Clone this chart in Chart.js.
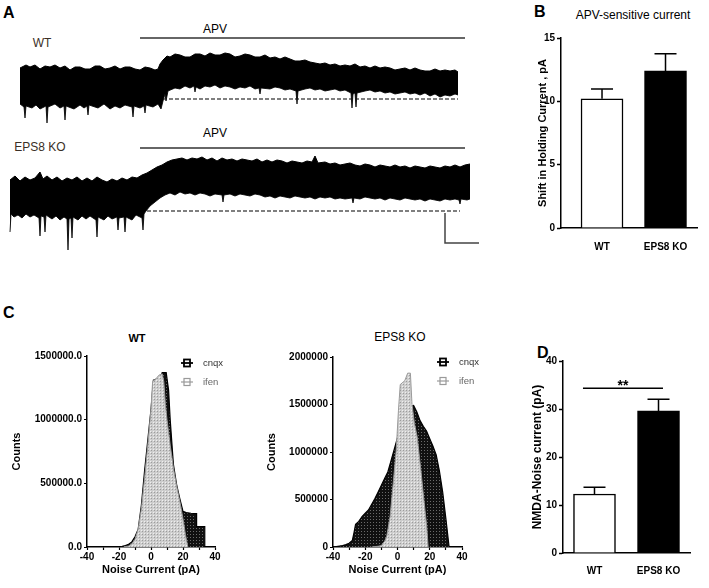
<!DOCTYPE html>
<html>
<head>
<meta charset="utf-8">
<script src="https://cdn.jsdelivr.net/npm/chart.js@4.4.1/dist/chart.umd.min.js"></script>
<style>
  body { margin: 0; width: 709px; height: 588px; background: #fff; position: relative; overflow: hidden;
         font-family: "Liberation Sans", Arial, sans-serif; }
  canvas { position: absolute; }
  .lbl { position: absolute; white-space: nowrap; line-height: 1; color: #000; transform: translate(-50%, -50%); }
  .panel { position: absolute; font-weight: bold; font-size: 16px; line-height: 1; }
</style>
</head>
<body>
<div class="panel" style="left:3px;top:5px">A</div>
<div class="panel" style="left:534px;top:4px">B</div>
<div class="panel" style="left:3px;top:305px">C</div>
<div class="panel" style="left:537px;top:345px">D</div>

<div class="lbl" style="left:42px;top:43px;font-size:12px;color:#3a2f26">WT</div>
<div class="lbl" style="left:40px;top:147px;font-size:12px;color:#3a2f26">EPS8 KO</div>
<div class="lbl" style="left:215px;top:29px;font-size:12px">APV</div>
<div class="lbl" style="left:215px;top:133px;font-size:12px">APV</div>
<div class="lbl" style="left:633px;top:15px;font-size:12px">APV-sensitive current</div>
<div class="lbl" style="left:137px;top:338px;font-size:11px;font-weight:bold">WT</div>
<div class="lbl" style="left:400px;top:337px;font-size:12px">EPS8 KO</div>

<canvas id="traceWT" width="480" height="110" style="left:0;top:20px"></canvas>
<canvas id="traceKO" width="480" height="120" style="left:0;top:130px"></canvas>
<canvas id="chartB" width="229" height="260" style="left:480px;top:0"></canvas>
<canvas id="histWT" width="240" height="268" style="left:0;top:320px"></canvas>
<canvas id="histKO" width="260" height="268" style="left:240px;top:320px"></canvas>
<canvas id="chartD" width="209" height="248" style="left:500px;top:340px"></canvas>

<script>
// ---- A: holding current traces, [time, current] envelopes (baseline = 0)
const wtTop = [[20,31],[26,34],[30,32],[35,34],[40,30],[45,33],[50,32],[55,34],[60,31],[65,33],[70,29],[75,32],[80,32],[85,30],[90,30],[95,33],[100,33],[105,30],[110,31],[115,33],[120,30],[125,32],[130,32],[135,30],[140,29],[145,32],[150,31],[155,29],[158,30],[160,35],[163,39],[167,43],[170,42],[175,45],[180,44],[185,42],[190,42],[195,45],[200,45],[205,43],[210,46],[215,44],[220,44],[225,46],[230,45],[235,42],[240,43],[245,45],[250,44],[255,42],[260,42],[265,44],[270,41],[275,42],[280,40],[285,42],[290,40],[295,38],[300,38],[305,39],[310,37],[315,36],[320,35],[325,36],[330,34],[335,35],[340,33],[345,34],[350,33],[355,35],[360,32],[365,33],[370,31],[375,33],[380,31],[385,32],[390,31],[395,29],[400,30],[405,31],[410,29],[415,31],[420,29],[425,28],[430,28],[435,30],[440,28],[445,29],[450,28],[455,29],[458,27]];
const wtBottom = [[20,-5],[24,-8],[25,-19],[26,-7],[32,-9],[36,-6],[40,-10],[46,-7],[47,-24],[48,-8],[55,-5],[60,-9],[64,-7],[65,-21],[66,-7],[74,-10],[80,-6],[84,-9],[87,-7],[88,-16],[89,-6],[98,-9],[104,-5],[110,-10],[115,-7],[120,-9],[125,-6],[132,-8],[133,-18],[134,-7],[140,-9],[144,-7],[145,-14],[146,-6],[153,-8],[158,-5],[161,-10],[163,-2],[165,5],[166,-2],[168,8],[175,11],[180,10],[185,13],[190,11],[194,13],[195,7],[196,12],[200,10],[205,13],[210,12],[215,14],[220,11],[225,13],[230,12],[235,10],[240,12],[245,11],[250,13],[255,10],[259,11],[260,5],[261,11],[270,10],[275,12],[280,11],[285,9],[290,10],[296,8],[297,-5],[298,8],[305,10],[310,11],[315,9],[320,10],[325,8],[330,9],[335,10],[340,8],[345,9],[351,6],[352,-9],[353,5],[355,6],[356,-8],[357,6],[365,8],[370,9],[375,7],[380,8],[385,6],[390,7],[395,5],[400,6],[405,7],[410,5],[415,6],[420,4],[425,6],[430,3],[435,5],[440,2],[445,4],[450,3],[455,5],[458,4]];
const koTop = [[10,31],[15,35],[20,30],[25,34],[30,31],[35,33],[40,39],[43,32],[47,35],[52,31],[57,34],[62,30],[67,33],[72,31],[77,34],[82,30],[87,33],[92,30],[97,34],[102,31],[107,29],[112,32],[117,30],[122,33],[127,31],[132,34],[137,33],[142,36],[147,38],[152,41],[157,44],[162,46],[167,49],[172,51],[177,52],[182,53],[187,51],[192,53],[197,52],[202,54],[207,51],[212,53],[217,50],[222,53],[227,51],[232,52],[237,50],[242,52],[247,51],[252,50],[257,52],[262,49],[267,51],[272,49],[277,51],[282,50],[287,48],[292,50],[297,49],[302,48],[307,50],[312,49],[315,55],[318,48],[325,49],[330,47],[335,48],[340,46],[345,47],[350,48],[355,46],[360,45],[365,47],[370,46],[375,44],[380,46],[385,45],[390,44],[395,46],[400,44],[405,45],[410,43],[415,45],[420,44],[425,43],[430,45],[435,44],[440,43],[445,45],[450,44],[455,46],[460,44],[465,46],[470,47]];
const koBottom = [[10,-21],[11,-3],[14,-6],[18,-4],[22,-7],[26,-3],[30,-6],[34,-4],[39,-7],[40,-25],[41,-5],[44,-6],[45,-21],[46,-4],[52,-8],[56,-5],[60,-9],[64,-6],[67,-8],[68,-39],[69,-8],[71,-7],[72,-27],[73,-6],[78,-9],[82,-5],[86,-8],[90,-5],[96,-9],[97,-26],[98,-6],[104,-9],[108,-5],[112,-8],[117,-6],[118,-19],[119,-7],[124,-6],[125,-21],[126,-6],[132,-9],[136,-4],[142,-7],[143,-19],[144,-3],[146,0],[150,5],[155,9],[160,13],[165,16],[170,18],[175,16],[180,19],[185,17],[190,18],[195,16],[200,18],[205,17],[210,15],[215,17],[222,16],[223,9],[224,16],[230,17],[235,15],[240,17],[245,16],[250,15],[255,17],[260,16],[265,14],[270,15],[275,13],[280,15],[285,14],[290,13],[295,15],[300,14],[305,13],[310,14],[315,12],[320,14],[325,13],[330,14],[335,12],[340,13],[345,12],[352,13],[353,8],[354,13],[360,12],[365,14],[370,13],[375,12],[380,13],[385,11],[390,13],[395,12],[400,11],[405,13],[410,12],[415,11],[420,12],[425,10],[430,12],[435,11],[440,10],[445,12],[450,11],[455,12],[459,11],[460,7],[461,12],[467,11],[470,12]];
const apvSpan = [140, 465];
const wtApvLevel = 61, koApvLevel = 63;
const wtBaseSpan = [163, 458], koBaseSpan = [147, 460];
const scaleBarT = [445, 479], scaleBarI = [-2, -32];

// ---- B and D: group means +/- SEM
const groups = ['WT', 'EPS8 KO'];
const apvMean = [10.2, 12.4];
const apvSem = [0.78, 1.35];
const noiseMean = [12.3, 29.6];
const noiseSem = [1.4, 2.45];

// ---- C: noise current histograms, [pA, counts]
const wtCnqx = [[-22,0],[-20,3000],[-18,6000],[-16,12000],[-14,22000],[-12,40000],[-10,80000],[-8,140000],[-6,330000],[-4,600000],[-2,840000],[0,1080000],[1.5,1310000],[4,1320000],[6,1340000],[7,1370000],[9.5,1370000],[11,1230000],[12,1000000],[14,650000],[16,490000],[18,380000],[20,280000],[22,270000],[25,265000],[28.5,262000],[28.5,160000],[33.6,160000],[33.6,0]];
const wtIfen = [[-17,0],[-14,8000],[-12,25000],[-10,60000],[-8,140000],[-6,300000],[-4,540000],[-2,800000],[0,1080000],[1,1300000],[3,1320000],[5,1350000],[7,1360000],[8,1300000],[9,1120000],[10,1000000],[12,800000],[14,620000],[16,480000],[18,360000],[20,220000],[21.5,100000],[23,0]];
const koCnqx = [[-40,0],[-38,5000],[-36,10000],[-34,15000],[-32,25000],[-30,40000],[-28,70000],[-27,150000],[-26,240000],[-24,270000],[-22,320000],[-20,355000],[-18,390000],[-16,450000],[-14,510000],[-12,580000],[-10,650000],[-8,720000],[-6,790000],[-4,910000],[-2,1030000],[0,1150000],[2,1280000],[4,1380000],[6,1450000],[8,1480000],[10,1490000],[12,1420000],[14,1330000],[16,1270000],[18,1220000],[20,1140000],[22,1060000],[24,970000],[26,800000],[28,580000],[30,300000],[32,0]];
const koIfen = [[-16,0],[-12,8000],[-10,15000],[-8,60000],[-6.7,110000],[-4.6,320000],[-2.5,700000],[-0.8,1020000],[0.6,1440000],[1.7,1710000],[4.5,1750000],[6.3,1830000],[8,1830000],[9,1500000],[10.5,1300000],[12.2,1160000],[14.3,840000],[16.4,490000],[18.1,220000],[19,0]];

const FONT = "'Liberation Sans', Arial, sans-serif";
Chart.defaults.font.family = FONT;
Chart.defaults.color = '#000';
Chart.defaults.animation = false;
Chart.defaults.responsive = false;
Chart.defaults.devicePixelRatio = 1;
Chart.defaults.plugins.legend.display = false;
Chart.defaults.plugins.tooltip.enabled = false;

const xy = a => a.map(p => ({x: p[0], y: p[1]}));
const seg = (span, level) => [{x: span[0], y: level}, {x: span[1], y: level}];

function traceChart(id, top, bottom, apvLevel, baseSpan, yMin, yMax, scaleBar) {
  const ds = [
    {data: xy(top), borderColor: '#000', borderWidth: 1, backgroundColor: '#000', fill: '+1'},
    {data: xy(bottom), borderColor: '#2a2a2a', borderWidth: 1, fill: false},
    {data: seg(apvSpan, apvLevel), borderColor: '#333', borderWidth: 1.5},
    {data: seg(baseSpan, 0), borderColor: '#000', borderWidth: 1.2, borderDash: [4, 2]}
  ];
  if (scaleBar) {
    ds.push({data: [{x: scaleBarT[0], y: scaleBarI[0]}, {x: scaleBarT[0], y: scaleBarI[1]}, {x: scaleBarT[1], y: scaleBarI[1]}],
             borderColor: '#444', borderWidth: 1.5});
  }
  ds.forEach(d => { d.pointRadius = 0; d.tension = 0; d.clip = false; });
  new Chart(document.getElementById(id), {
    type: 'line',
    data: {datasets: ds},
    options: {
      layout: {padding: 0},
      scales: {
        x: {type: 'linear', display: false, min: 0, max: 480},
        y: {display: false, min: yMin, max: yMax}
      }
    }
  });
}

traceChart('traceWT', wtTop, wtBottom, wtApvLevel, wtBaseSpan, -31, 79, false);
traceChart('traceKO', koTop, koBottom, koApvLevel, koBaseSpan, -39, 81, true);

// error bars and significance line, positioned through the chart scales
function barExtras(mean, err, sig) {
  return {
    id: 'barExtras',
    afterDatasetsDraw(chart) {
      const ctx = chart.ctx, xs = chart.scales.x, ys = chart.scales.y;
      ctx.save();
      ctx.strokeStyle = '#000';
      ctx.lineWidth = 1.5;
      chart.getDatasetMeta(0).data.forEach((bar, i) => {
        const top = ys.getPixelForValue(mean[i] + err[i]);
        ctx.beginPath();
        ctx.moveTo(bar.x, bar.y);
        ctx.lineTo(bar.x, top);
        ctx.moveTo(bar.x - 11, top);
        ctx.lineTo(bar.x + 11, top);
        ctx.stroke();
      });
      if (sig) {
        const py = ys.getPixelForValue(sig.level);
        ctx.beginPath();
        ctx.moveTo(xs.getPixelForValue(sig.from), py);
        ctx.lineTo(xs.getPixelForValue(sig.to), py);
        ctx.stroke();
        ctx.fillStyle = '#000';
        ctx.font = 'bold 14px ' + FONT;
        ctx.textAlign = 'center';
        ctx.textBaseline = 'alphabetic';
        ctx.fillText(sig.text, xs.getPixelForValue(sig.at), py + 2);
      }
      ctx.restore();
    }
  };
}

function barChart(id, mean, err, opt) {
  new Chart(document.getElementById(id), {
    type: 'bar',
    data: {
      datasets: [{
        data: mean.map((v, i) => ({x: i + 1, y: v})),
        backgroundColor: ['#fff', '#000'],
        borderColor: '#000',
        borderWidth: 1.5,
        barThickness: 42
      }]
    },
    options: {
      layout: {padding: {top: opt.padTop, right: opt.padRight, left: 0, bottom: 0}},
      scales: {
        x: {
          type: 'linear', min: opt.xMin, max: opt.xMax, offset: false,
          afterBuildTicks: s => { s.ticks = [{value: 1}, {value: 2}]; },
          afterFit: s => { s.height = opt.xHeight; },
          grid: {display: false, offset: false},
          border: {color: '#000', width: 1.5},
          ticks: {autoSkip: false, maxRotation: 0, padding: opt.xPad, font: {size: 10, weight: 'bold'},
                  callback: v => groups[v - 1]}
        },
        y: {
          min: 0, max: opt.yMax,
          afterFit: s => { s.width = opt.yWidth; },
          grid: {drawOnChartArea: false, tickLength: 4, tickColor: '#000', tickWidth: 1.5},
          border: {color: '#000', width: 1.5},
          ticks: {stepSize: opt.yStep, padding: 2, font: {size: 10, weight: 'bold'}},
          title: {display: true, text: opt.yTitle, font: {size: opt.titleSize, weight: 'bold'},
                  padding: {top: opt.titlePad, bottom: 0}}
        }
      }
    },
    plugins: [barExtras(mean, err, opt.sig)]
  });
}

barChart('chartB', apvMean, apvSem, {
  padTop: 38, padRight: 12, xMin: 0.354, xMax: 2.496, xHeight: 32, xPad: 5,
  yMax: 15, yStep: 5, yWidth: 81, yTitle: 'Shift in Holding Current , pA', titleSize: 11, titlePad: 56
});

barChart('chartD', noiseMean, noiseSem, {
  padTop: 21, padRight: 19, xMin: 0.508, xMax: 2.492, xHeight: 35, xPad: 4,
  yMax: 40, yStep: 10, yWidth: 63, yTitle: 'NMDA-Noise current (pA)', titleSize: 12, titlePad: 30,
  sig: {from: 0.82, to: 2.07, level: 34.3, at: 1.445, text: '**'}
});

// ---- C histograms
function makePattern(canvas, bg, dot, dot2) {
  const c = document.createElement('canvas');
  c.width = 3; c.height = 3;
  const g = c.getContext('2d');
  g.fillStyle = bg; g.fillRect(0, 0, 3, 3);
  g.fillStyle = dot; g.fillRect(1, 1, 1, 1);
  if (dot2) { g.fillStyle = dot2; g.fillRect(0, 0, 1, 1); }
  return canvas.getContext('2d').createPattern(c, 'repeat');
}

const histLegend = {
  id: 'histLegend',
  afterDraw(chart) {
    const o = chart.config.options.legendAt;
    const ctx = chart.ctx;
    ctx.save();
    chart.data.datasets.forEach((d, i) => {
      const y = o.y + i * 19, x = o.x;
      ctx.strokeStyle = d.borderColor;
      ctx.lineWidth = d.label === 'cnqx' ? 1.8 : 1.2;
      ctx.beginPath(); ctx.moveTo(x - 6, y); ctx.lineTo(x + 6, y); ctx.stroke();
      ctx.fillStyle = '#fff';
      ctx.fillRect(x - 3, y - 3.5, 6, 7);
      ctx.strokeRect(x - 3, y - 3.5, 6, 7);
      ctx.beginPath(); ctx.moveTo(x - 3, y); ctx.lineTo(x + 3, y); ctx.stroke();
      ctx.fillStyle = d.label === 'cnqx' ? '#333' : '#666';
      ctx.font = '9.5px ' + FONT;
      ctx.textAlign = 'left';
      ctx.textBaseline = 'middle';
      ctx.fillText(d.label, x + 16, y);
    });
    ctx.restore();
  }
};

function histChart(id, cnqx, ifen, opt) {
  const cv = document.getElementById(id);
  new Chart(cv, {
    type: 'line',
    data: {
      datasets: [
        {label: 'cnqx', data: xy(cnqx), borderColor: '#000', borderWidth: 1.2,
         backgroundColor: makePattern(cv, '#101010', '#6a6a6a'), fill: 'origin', order: 1},
        {label: 'ifen', data: xy(ifen), borderColor: '#9a9a9a', borderWidth: 1,
         backgroundColor: makePattern(cv, '#cdcdcd', '#9c9c9c', '#efefef'), fill: 'origin', order: 0}
      ].map(d => Object.assign(d, {pointRadius: 0, tension: 0}))
    },
    options: {
      legendAt: opt.legendAt,
      layout: {padding: {top: opt.padTop, right: opt.padRight, left: 0, bottom: 0}},
      scales: {
        x: {
          type: 'linear', min: -40, max: 40,
          afterFit: s => { s.height = 41; },
          grid: {drawOnChartArea: false, tickLength: 3, tickColor: '#000', tickWidth: 1.2},
          border: {color: '#000', width: 1.5},
          ticks: {stepSize: 10, autoSkip: false, maxRotation: 0, padding: 1, font: {size: 10, weight: 'bold'},
                  callback: v => (v % 20 === 0 ? String(v) : '')},
          title: {display: true, text: 'Noise Current (pA)', font: {size: 11, weight: 'bold'},
                  padding: {top: 0, bottom: 11}}
        },
        y: {
          min: 0, max: opt.yMax,
          afterFit: s => { s.width = opt.yWidth; },
          grid: {drawOnChartArea: false, tickLength: 3, tickColor: '#000', tickWidth: 1.2},
          border: {color: '#000', width: 1.5},
          ticks: {stepSize: 500000, padding: 2, font: {size: 10, weight: 'bold'}, callback: opt.fmt},
          title: {display: true, text: 'Counts', font: {size: 11, weight: 'bold'},
                  padding: {top: opt.titlePad, bottom: 0}}
        }
      }
    },
    plugins: [histLegend]
  });
}

histChart('histWT', wtCnqx, wtIfen, {
  padTop: 36, padRight: 25, yWidth: 87, yMax: 1500000, titlePad: 10,
  fmt: v => v.toFixed(1), legendAt: {x: 187, y: 43}
});
histChart('histKO', koCnqx, koIfen, {
  padTop: 37, padRight: 38, yWidth: 93, yMax: 2000000, titlePad: 25,
  fmt: v => String(v), legendAt: {x: 203, y: 42}
});
</script>
</body>
</html>
